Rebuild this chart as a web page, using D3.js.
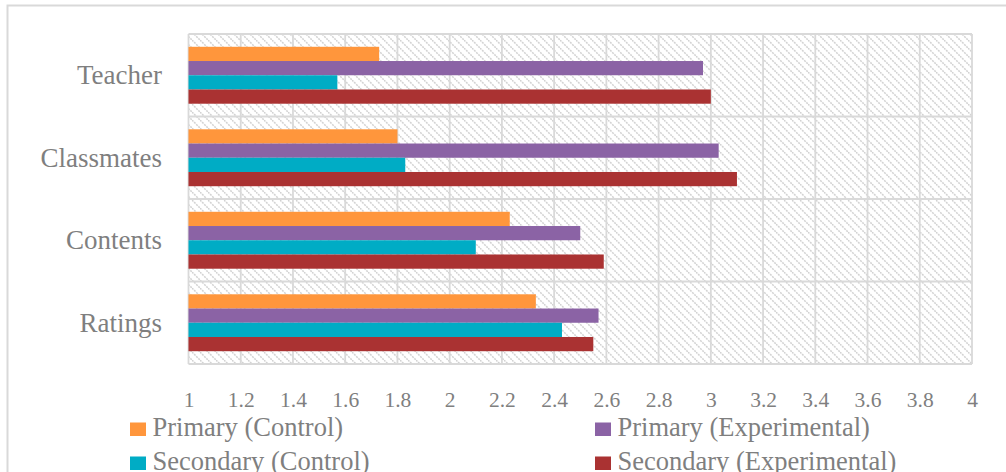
<!DOCTYPE html>
<html>
<head>
<meta charset="utf-8">
<script src="https://cdn.jsdelivr.net/npm/d3@7"></script>
<style>
  html, body { margin: 0; padding: 0; background: #fff; }
  svg { display: block; }
  text { font-family: "Liberation Serif", "DejaVu Serif", serif; fill: #7f7f7f; }
</style>
</head>
<body>
<svg id="chart" width="1006" height="472"></svg>
<script>
const categories = ["Teacher", "Classmates", "Contents", "Ratings"];
const seriesNames = ["Primary (Control)", "Primary (Experimental)", "Secondary (Control)", "Secondary (Experimental)"];
const primaryControl      = [1.73, 1.80, 2.23, 2.33];
const primaryExperimental = [2.97, 3.03, 2.50, 2.57];
const secondaryControl    = [1.57, 1.83, 2.10, 2.43];
const secondaryExperimental = [3.00, 3.10, 2.59, 2.55];
const xTicks = [1, 1.2, 1.4, 1.6, 1.8, 2, 2.2, 2.4, 2.6, 2.8, 3, 3.2, 3.4, 3.6, 3.8, 4];
const xTickLabels = ["1", "1.2", "1.4", "1.6", "1.8", "2", "2.2", "2.4", "2.6", "2.8", "3", "3.2", "3.4", "3.6", "3.8", "4"];
const colors = ["#FF963C", "#8B63A5", "#00ACC5", "#AA3232"];

const seriesValues = [primaryControl, primaryExperimental, secondaryControl, secondaryExperimental];

(function () {
const svg = d3.select("#chart");
const pLeft = 188.5, pRight = 972, pTop = 34, pBottom = 364;

const x = d3.scaleLinear().domain([1, 4]).range([pLeft, pRight]);
const y0 = d3.scaleBand().domain(categories).range([pTop, pBottom]).paddingInner(0).paddingOuter(0);
const bw = y0.bandwidth();
const gap = bw * 0.155;
const y1 = d3.scaleBand().domain(seriesNames).range([gap, bw - gap]).padding(0);

// outer chart border
svg.append("rect")
  .attr("x", 7.5).attr("y", 5.5)
  .attr("width", 1100).attr("height", 600)
  .attr("fill", "none").attr("stroke", "#d9d9d9").attr("stroke-width", 2);

// hatch pattern
const defs = svg.append("defs");
const pat = defs.append("pattern")
  .attr("id", "hatch").attr("patternUnits", "userSpaceOnUse")
  .attr("width", 8).attr("height", 8);
pat.append("rect").attr("width", 8).attr("height", 8).attr("fill", "#fff");
pat.append("path")
  .attr("d", "M0,0 L8,8 M-4,4 L4,12 M4,-4 L12,4")
  .attr("stroke", "#d2d2d2").attr("stroke-width", 1.5)
  .attr("stroke-dasharray", "2,1");

svg.append("rect")
  .attr("x", pLeft).attr("y", pTop)
  .attr("width", pRight - pLeft).attr("height", pBottom - pTop)
  .attr("fill", "url(#hatch)");

// gridlines
const grid = svg.append("g");
grid.selectAll("line.v").data(xTicks).join("line")
  .attr("class", "v")
  .attr("x1", d => x(d)).attr("x2", d => x(d))
  .attr("y1", pTop).attr("y2", pBottom)
  .attr("stroke", "#d9d9d9").attr("stroke-width", 1.8);
const hLines = categories.map(c => y0(c)).concat([pBottom]);
grid.selectAll("line.h").data(hLines).join("line")
  .attr("class", "h")
  .attr("x1", pLeft).attr("x2", pRight)
  .attr("y1", d => d).attr("y2", d => d)
  .attr("stroke", "#d9d9d9").attr("stroke-width", 1.8);

// bars
const groups = svg.append("g").selectAll("g")
  .data(categories).join("g")
  .attr("transform", c => `translate(0,${y0(c)})`);
groups.selectAll("rect")
  .data((c, ci) => seriesNames.map((s, si) => ({ s, si, v: seriesValues[si][ci] })))
  .join("rect")
  .attr("x", x(1))
  .attr("y", d => y1(d.s))
  .attr("width", d => x(d.v) - x(1))
  .attr("height", y1.bandwidth())
  .attr("fill", d => colors[d.si]);

// x axis
const xAxis = svg.append("g")
  .attr("transform", `translate(0,${pBottom})`)
  .call(d3.axisBottom(x).tickValues(xTicks).tickSize(0)
    .tickFormat((d, i) => xTickLabels[i]));
xAxis.select(".domain").remove();
xAxis.selectAll("text")
  .attr("y", 43).attr("dy", 0)
  .style("font-size", "21.5px")
  .style("font-family", "Liberation Serif")
  .attr("fill", "#7f7f7f");

// y axis
const yAxis = svg.append("g")
  .attr("transform", `translate(${pLeft},0)`)
  .call(d3.axisLeft(y0).tickSize(0));
yAxis.select(".domain").remove();
yAxis.selectAll("text")
  .attr("x", -26.5).attr("dy", 0).attr("y", 8.8)
  .style("font-size", "27px")
  .style("font-family", "Liberation Serif")
  .attr("fill", "#7f7f7f");

// legend
const legendPos = [
  { x: 130, y: 435.5 }, { x: 595, y: 435.5 },
  { x: 130, y: 469.5 }, { x: 595, y: 469.5 }
];
const legend = svg.append("g").selectAll("g")
  .data(seriesNames).join("g")
  .attr("transform", (d, i) => `translate(${legendPos[i].x},${legendPos[i].y})`);
legend.append("rect")
  .attr("x", 0).attr("y", -13).attr("width", 16).attr("height", 13.5)
  .attr("fill", (d, i) => colors[i]);
legend.append("text")
  .attr("x", 22.5).attr("y", 0)
  .style("font-size", "26.5px")
  .text(d => d);
})();
</script>
</body>
</html>
